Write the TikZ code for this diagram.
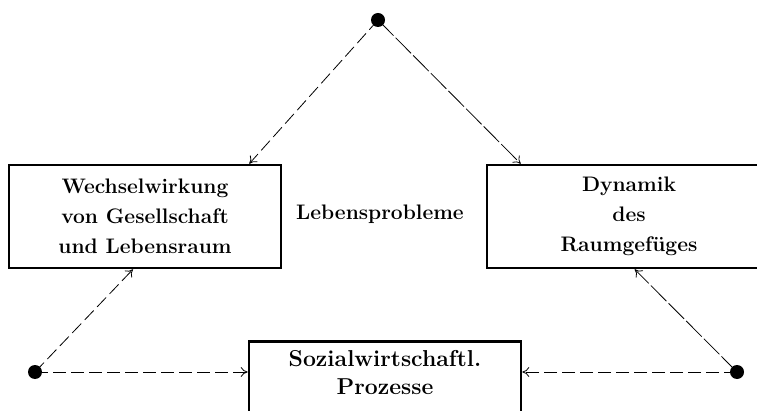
\documentclass[tikz,border=0pt]{standalone}
\usepackage{tikz}
\usetikzlibrary{positioning}
\usetikzlibrary{arrows.meta}

\tikzset{
    box/.style={draw, line width=2.6pt, rectangle, minimum width=272, minimum height=103,
        align=center, font=\fontsize{21}{30}\selectfont\bfseries},
    txt/.style={align=center, font=\fontsize{21}{29}\selectfont\bfseries},
    conn/.style={-{To[length=7pt,width=10pt]}, line width=0.8pt, dash pattern=on 13pt off 5pt},
    connlong/.style={-{To[length=7pt,width=10pt]}, line width=0.8pt, dash pattern=on 22pt off 3pt},
}

\begin{document}
\begin{tikzpicture}[x=1pt, y=-1pt]

    \useasboundingbox (0,0) rectangle (757,411);

    \node[box] (wechsel) at (145,216.5) {Wechselwirkung\\von Gesellschaft\\und Lebensraum};
    \node[box, minimum width=284] (dynamik) at (629,216.5) {Dynamik\\des\\Raumgef\"uges};
    \node[box, anchor=north, minimum height=100] (sozial) at (385,340) {};
    \node[txt, font=\fontsize{23}{28}\selectfont\bfseries] (sozialtxt) at (385,373) {Sozialwirtschaftl.\\Prozesse};

    \node[txt] (leben) at (380,214) {Lebensprobleme};

    \coordinate (top) at (378,20);
    \coordinate (ldot) at (35,372);
    \coordinate (rdot) at (737,372);

    \path[fill] (top) circle (7);
    \path[fill] (ldot) circle (7);
    \path[fill] (rdot) circle (7);

    % from the top
    \draw[conn] (top) -- ([xshift=-33pt]wechsel.north east);
    \draw[connlong] (top) -- ([xshift=35pt]dynamik.north west);

    % from the left
    \draw[conn] (ldot) -- ([xshift=-12pt]wechsel.south);
    \draw[conn] (ldot) -- (ldot -| sozial.west);

    % from the right
    \draw[connlong] (rdot) -- ([xshift=149pt]dynamik.south west);
    \draw[conn] (rdot) -- (rdot -| sozial.east);

\end{tikzpicture}
\end{document}
